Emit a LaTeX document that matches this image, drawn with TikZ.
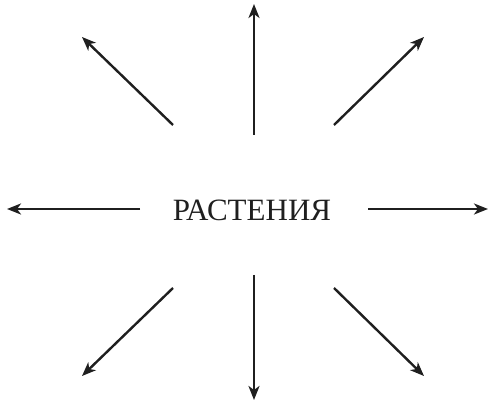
\documentclass[tikz,border=0pt]{standalone}
\usepackage{fontspec}
\setmainfont{Liberation Serif}
\usetikzlibrary{positioning, arrows.meta}

\begin{document}
\begin{tikzpicture}[
  x=1pt, y=-1pt,
  word/.style={font=\fontsize{31}{34}\selectfont, inner sep=0pt},
  ray/.style={-{Stealth[length=14pt, width=11pt, inset=4pt]}, line width=2.4pt, black!88}
]
  \useasboundingbox (0,0) rectangle (488,403);
  \node[word, text=black!88] (plants) at (252,210) {РАСТЕНИЯ};
  % start and end points of the rays
  \coordinate (n0) at (254,135);  \coordinate (n1) at (254,4);
  \coordinate (s0) at (254,275);  \coordinate (s1) at (254,400);
  \coordinate (w0) at (140,209);  \coordinate (w1) at (7,209);
  \coordinate (e0) at (368,209);  \coordinate (e1) at (488,209);
  \coordinate (nw0) at (173,125); \coordinate (nw1) at (82,37);
  \coordinate (ne0) at (334,125); \coordinate (ne1) at (424,37);
  \coordinate (sw0) at (173,288); \coordinate (sw1) at (82,376);
  \coordinate (se0) at (334,288); \coordinate (se1) at (424,376);
  \foreach \r in {n, s, w, e, nw, ne, sw, se}
    \draw[ray] (\r0) -- (\r1);
\end{tikzpicture}
\end{document}
